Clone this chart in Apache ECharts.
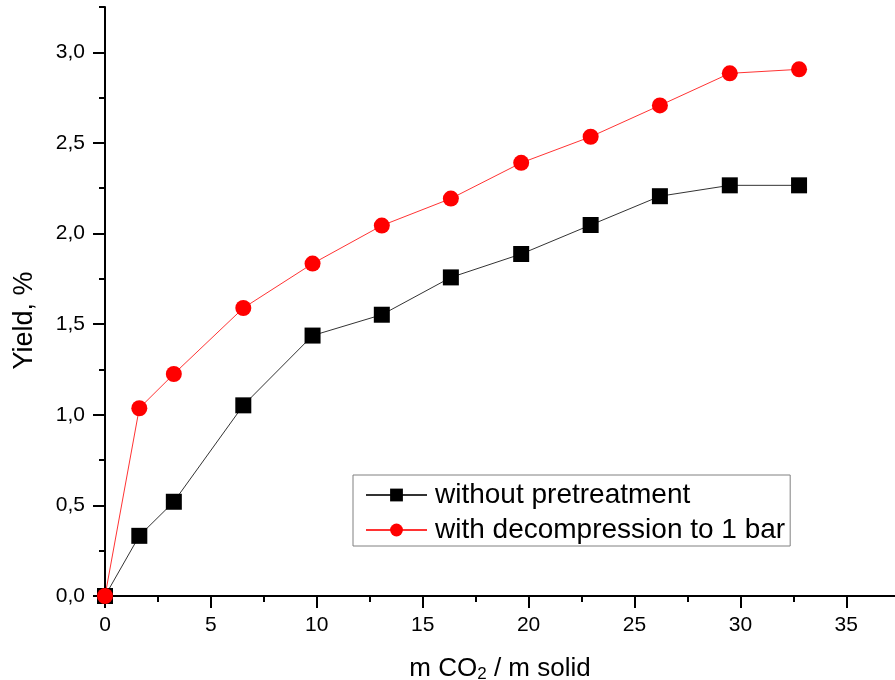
<!DOCTYPE html>
<html>
<head>
<meta charset="utf-8">
<script src="https://cdn.jsdelivr.net/npm/echarts@6/dist/echarts.min.js"></script>
<style>
  html, body { margin: 0; padding: 0; background: #fff; }
  #chart { width: 895px; height: 680px; }
</style>
</head>
<body>
<div id="chart"></div>
<script>
// data
const massRatio = [0, 1.62, 3.25, 6.53, 9.8, 13.07, 16.33, 19.65, 22.93, 26.2, 29.5, 32.77];
const withoutPretreatment = [0, 0.332, 0.52, 1.052, 1.437, 1.552, 1.758, 1.887, 2.047, 2.206, 2.266, 2.266];
const withDecompression = [0, 1.036, 1.225, 1.589, 1.834, 2.044, 2.193, 2.39, 2.534, 2.707, 2.884, 2.906];

const seriesNames = ['without pretreatment', 'with decompression to 1 bar'];

const xMajorTicks = [0, 5, 10, 15, 20, 25, 30, 35];
const xMinorTicks = [2.5, 7.5, 12.5, 17.5, 22.5, 27.5, 32.5];
const yMajorTicks = [0, 0.5, 1.0, 1.5, 2.0, 2.5, 3.0];
const yMinorTicks = [0.25, 0.75, 1.25, 1.75, 2.25, 2.75, 3.25];

const font = 'Liberation Sans, Arial, sans-serif';
const xMax = 37.3;
const yMax = 3.25;

const chart = echarts.init(document.getElementById('chart'));

const pairs = (xs, ys) => xs.map((x, i) => [x, ys[i]]);

const option = {
  animation: false,
  backgroundColor: '#fff',
  grid: { left: 105, right: 0, top: 7, bottom: 84, containLabel: false, outerBoundsMode: 'none' },
  legend: {
    orient: 'vertical',
    left: 353,
    top: 475,
    padding: [6, 5, 2, 12],
    itemGap: 7,
    itemWidth: 61,
    itemHeight: 16,
    borderColor: '#808080',
    borderWidth: 1,
    textStyle: { fontFamily: font, fontSize: 28, lineHeight: 28, color: '#000', padding: [0, 0, 0, 3] },
    data: seriesNames
  },
  xAxis: [
    {
      type: 'value',
      min: 0,
      max: xMax,
      name: 'm CO{sub|2} / m solid',
      nameLocation: 'middle',
      nameGap: 58,
      nameTextStyle: {
        fontFamily: font, fontSize: 26, color: '#000',
        rich: { sub: { fontFamily: font, fontSize: 17, color: '#000', verticalAlign: 'bottom', padding: [12, 0, 0, 0] } }
      },
      axisLine: { show: true, onZero: false, lineStyle: { color: '#000', width: 2 } },
      axisTick: { show: true, inside: false, length: 12, lineStyle: { color: '#000', width: 2 }, customValues: xMajorTicks },
      axisLabel: { margin: 19, fontFamily: font, fontSize: 21, color: '#000', customValues: xMajorTicks },
      splitLine: { show: false }
    },
    {
      type: 'value',
      min: 0,
      max: xMax,
      position: 'bottom',
      axisLine: { show: false },
      axisTick: { show: true, inside: false, length: 6, lineStyle: { color: '#000', width: 2 }, customValues: xMinorTicks },
      axisLabel: { show: false },
      splitLine: { show: false }
    }
  ],
  yAxis: [
    {
      type: 'value',
      min: 0,
      max: yMax,
      name: 'Yield, %',
      nameLocation: 'middle',
      nameGap: 67,
      nameTextStyle: { fontFamily: font, fontSize: 27, color: '#000', padding: [0, 38, 0, 0] },
      axisLine: { show: true, onZero: false, lineStyle: { color: '#000', width: 2 } },
      axisTick: { show: true, inside: false, length: 12, lineStyle: { color: '#000', width: 2 }, customValues: yMajorTicks },
      axisLabel: {
        margin: 20, fontFamily: font, fontSize: 21, color: '#000', customValues: yMajorTicks,
        formatter: v => v.toFixed(1).replace('.', ',')
      },
      splitLine: { show: false }
    },
    {
      type: 'value',
      min: 0,
      max: yMax,
      position: 'left',
      axisLine: { show: false },
      axisTick: { show: true, inside: false, length: 6, lineStyle: { color: '#000', width: 2 }, customValues: yMinorTicks },
      axisLabel: { show: false },
      splitLine: { show: false }
    }
  ],
  series: [
    {
      name: seriesNames[0],
      type: 'line',
      xAxisIndex: 0,
      yAxisIndex: 0,
      data: pairs(massRatio, withoutPretreatment),
      symbol: 'rect',
      symbolSize: 16,
      showAllSymbol: true,
      itemStyle: { color: '#000' },
      lineStyle: { color: '#333', width: 1 }
    },
    {
      name: seriesNames[1],
      type: 'line',
      xAxisIndex: 0,
      yAxisIndex: 0,
      data: pairs(massRatio, withDecompression),
      symbol: 'circle',
      symbolSize: 16,
      showAllSymbol: true,
      itemStyle: { color: '#ff0000' },
      lineStyle: { color: '#ff3333', width: 1 }
    }
  ]
};

chart.setOption(option);
</script>
</body>
</html>
